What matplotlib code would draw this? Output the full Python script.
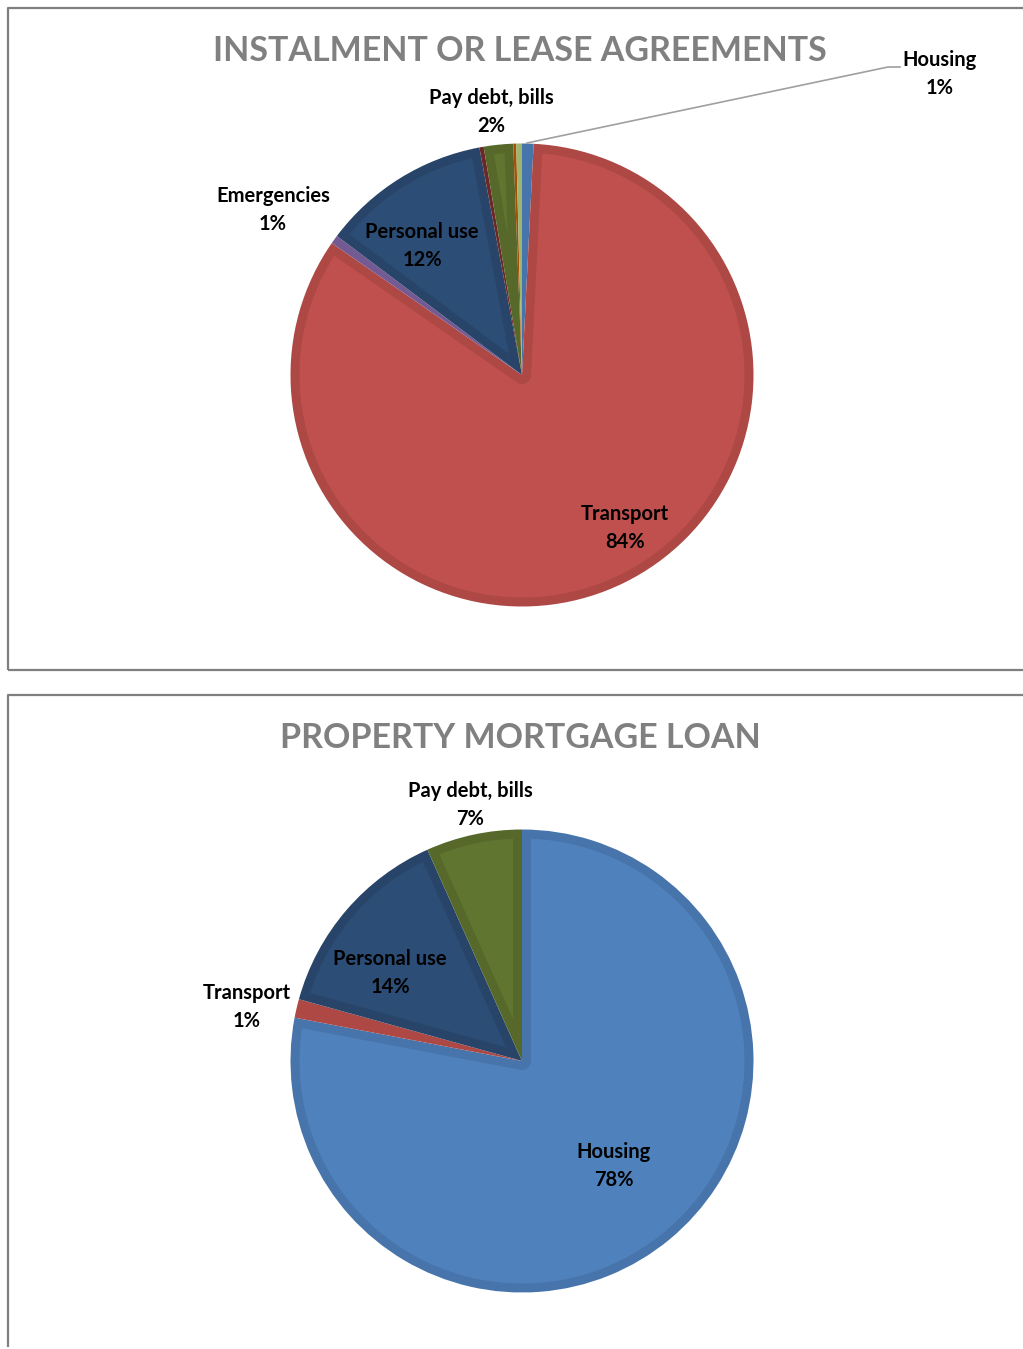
import matplotlib
matplotlib.use("Agg")
import numpy as np
import matplotlib.pyplot as plt
from matplotlib.colors import to_rgb
from matplotlib.patches import Polygon

W, H = 1023, 1349

# instalment / lease agreements, clockwise from 12 o'clock
lease_names = ["Housing", "Transport", "Emergencies", "Personal use", "Other",
               "Pay debt, bills", "Savings", "Education"]
lease_values = [0.8, 83.85, 0.6, 11.8, 0.3, 2.05, 0.2, 0.4]
lease_colors = ["#4F81BD", "#C0504D", "#8064A2", "#2C4D75", "#772C2A",
                "#5F7530", "#B65708", "#AFC97A"]

# property mortgage loan, clockwise from 12 o'clock
mortgage_names = ["Housing", "Transport", "Personal use", "Pay debt, bills"]
mortgage_values = [78.0, 1.3, 14.0, 6.7]
mortgage_colors = ["#4F81BD", "#C0504D", "#2C4D75", "#5F7530"]

plt.rcParams['font.family'] = ['Lato', 'DejaVu Sans']

fig = plt.figure(figsize=(W / 100, H / 100), dpi=100)
ax = fig.add_axes([0, 0, 1, 1])

RIM = 9  # px width of the darker bevel inside each slice


def Y(y):
    return H - y


def darker(c, f=0.9):
    r, g, b = to_rgb(c)
    return (r * f, g * f, b * f)


def pol(cx, cy, rad, ang):
    a = np.radians(ang)
    return np.column_stack([cx + rad * np.cos(a), cy + rad * np.sin(a)])


def inset(cx, cy, r, t1, t2, d):
    # slice shrunk by d on every side (arc and both straight edges)
    span = t2 - t1
    rho = r - d
    dl = np.degrees(np.arcsin(d / rho))
    if span <= 2 * dl + 1.0:
        return None
    pts = [pol(cx, cy, rho, np.linspace(t1 + dl, t2 - dl, 200))]
    if span < 180:
        mid = (t1 + t2) / 2
        pts.append(pol(cx, cy, d / np.sin(np.radians(span / 2)), [mid]))
    else:
        pts.append(pol(cx, cy, d, np.linspace(t2 - 90, t1 + 90, 100)))
    return np.vstack(pts)


def draw_pie(values, colors, cx, cy, r):
    wedges, _ = ax.pie(values, colors=[darker(c) for c in colors], startangle=90,
                       counterclock=False, radius=r, center=(cx, Y(cy)),
                       frame=True, wedgeprops=dict(linewidth=0))
    for w, c in zip(wedges, colors):
        xy = inset(cx, Y(cy), r, w.theta1, w.theta2, RIM)
        if xy is not None:
            ax.add_patch(Polygon(xy, closed=True, facecolor=c, linewidth=0))
    return wedges


def label(name, val, x, y):
    ax.text(x, Y(y), f"{name}\n{val:.0f}%", ha="center", va="center",
            fontsize=14.5, fontweight="bold", color="black", linespacing=1.45)


# panel frames
frame = dict(color="#7f7f7f", lw=1.6, solid_capstyle="butt")
ax.plot([8, 8, W], [Y(670), Y(8), Y(8)], **frame)
ax.plot([8, W], [Y(670), Y(670)], **frame)
ax.plot([8, 8, W], [Y(1347), Y(695), Y(695)], **frame)

# top panel
draw_pie(lease_values, lease_colors, 522, 375, 231.5)
ax.text(520, Y(51), "INSTALMENT OR LEASE AGREEMENTS", ha="center", va="center",
        fontsize=24.5, fontweight="bold", color="#808080")
lv = dict(zip(lease_names, lease_values))
label("Pay debt, bills", lv["Pay debt, bills"], 491, 112)
label("Emergencies", lv["Emergencies"], 273, 210)
label("Personal use", lv["Personal use"], 422, 246)
label("Transport", lv["Transport"], 625, 528)
label("Housing", lv["Housing"], 940, 74)
ax.plot([527, 888, 900], [Y(143), Y(67), Y(67)], color="#a0a0a0", lw=1.2)

# bottom panel
draw_pie(mortgage_values, mortgage_colors, 522, 1061, 231.5)
ax.text(520, Y(738), "PROPERTY MORTGAGE LOAN", ha="center", va="center",
        fontsize=24.5, fontweight="bold", color="#808080")
mv = dict(zip(mortgage_names, mortgage_values))
label("Pay debt, bills", mv["Pay debt, bills"], 470, 805)
label("Transport", mv["Transport"], 247, 1007)
label("Personal use", mv["Personal use"], 390, 973)
label("Housing", mv["Housing"], 614, 1166)

ax.set_xlim(0, W)
ax.set_ylim(0, H)
ax.set_aspect("auto")
ax.axis("off")

fig.savefig("out.png", dpi=100)
